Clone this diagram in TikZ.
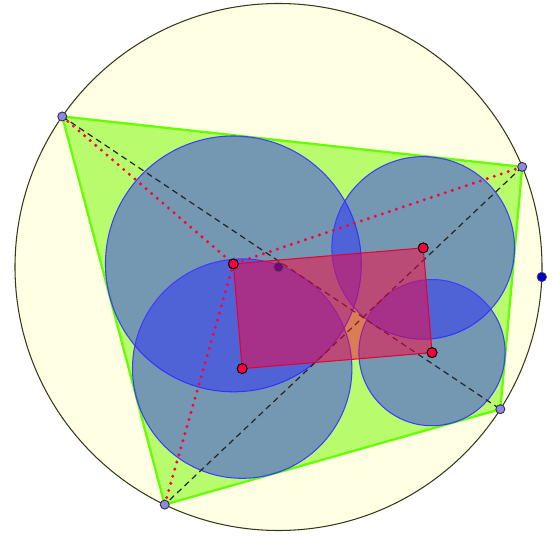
\documentclass[tikz,border=0pt]{standalone}
\usepackage{xcolor}
\definecolor{ggyellow}{RGB}{255,255,228}
\definecolor{ggolive}{RGB}{55,55,25}
\definecolor{gggreen}{RGB}{100,255,0}
\definecolor{gglime}{RGB}{184,252,110}
\definecolor{ggblue}{RGB}{40,40,255}
\definecolor{ggred}{RGB}{255,0,60}
\definecolor{ggviolet}{RGB}{140,135,230}
\definecolor{ggpurple}{RGB}{120,0,120}
\definecolor{ggdark}{RGB}{0,0,200}
\usetikzlibrary{positioning,calc}

\begin{document}
\begin{tikzpicture}[x=0.02cm, y=0.02cm,
  pt_vtx/.style={circle, draw=black!80, fill=ggviolet, inner sep=0pt, minimum size=0.18cm, line width=0.5pt},
  pt_inc/.style={circle, draw=black, fill=ggred, inner sep=0pt, minimum size=0.2cm, line width=0.6pt},
  pt_ctr/.style={circle, draw=black!70, fill=ggpurple, inner sep=0pt, minimum size=0.19cm, line width=0.4pt},
  pt_blu/.style={circle, draw=black!70, fill=ggdark, inner sep=0pt, minimum size=0.19cm, line width=0.4pt},
  in_circ/.style={draw=ggblue!90, line width=0.6pt, fill=ggblue, fill opacity=0.47},
  diag_ln/.style={black!85, line width=0.7pt, dash pattern=on 3.4pt off 2.4pt},
  bis_ln/.style={ggred, line width=1.9pt, dash pattern=on 0pt off 4.2pt, line cap=round}
]
  \useasboundingbox (-278.5,-269) rectangle (274.5,267);

  %% circumcircle
  \draw[ggolive, fill=ggyellow, line width=0.6pt] (0,0) circle (263.5);

  %% cyclic quadrilateral
  \coordinate (a) at (145.16:263.5);
  \coordinate (b) at (22.33:263.5);
  \coordinate (c) at (-32.66:263.5);
  \coordinate (d) at (-115.59:263.5);
  \coordinate (e) at (-2.17:263.5);
  \draw[gggreen, fill=gglime, line width=1.3pt, line join=round] (a) -- (b) -- (c) -- (d) -- cycle;

  %% incircles of ABD, ABC, BCD, CDA
  \coordinate (i1) at (-45.13,3.10);
  \coordinate (i2) at (144.71,19.10);
  \coordinate (i3) at (153.53,-85.63);
  \coordinate (i4) at (-36.32,-101.62);
  \draw[in_circ] (i1) circle (127.9);
  \draw[in_circ] (i2) circle (91.3);
  \draw[in_circ] (i3) circle (73.1);
  \draw[in_circ] (i4) circle (109.7);

  %% diagonals
  \draw[diag_ln] (a) -- (c);
  \draw[diag_ln] (b) -- (d);

  %% rectangle of incentres
  \draw[draw=ggred!90!black, line width=0.6pt, fill=ggred, fill opacity=0.5] (i1) -- (i2) -- (i3) -- (i4) -- cycle;

  %% bisectors
  \draw[bis_ln] (a) -- (i1);
  \draw[bis_ln] (b) -- (i1);
  \draw[bis_ln] (d) -- (i1);

  %% points
  \node[pt_vtx] (pa) at (a) {};
  \node[pt_vtx] (pb) at (b) {};
  \node[pt_vtx] (pc) at (c) {};
  \node[pt_vtx] (pd) at (d) {};
  \node[pt_blu] (pe) at (e) {};
  \node[pt_ctr] (po) at (0,0) {};
  \node[pt_inc] (p1) at (i1) {};
  \node[pt_inc] (p2) at (i2) {};
  \node[pt_inc] (p3) at (i3) {};
  \node[pt_inc] (p4) at (i4) {};
\end{tikzpicture}
\end{document}
